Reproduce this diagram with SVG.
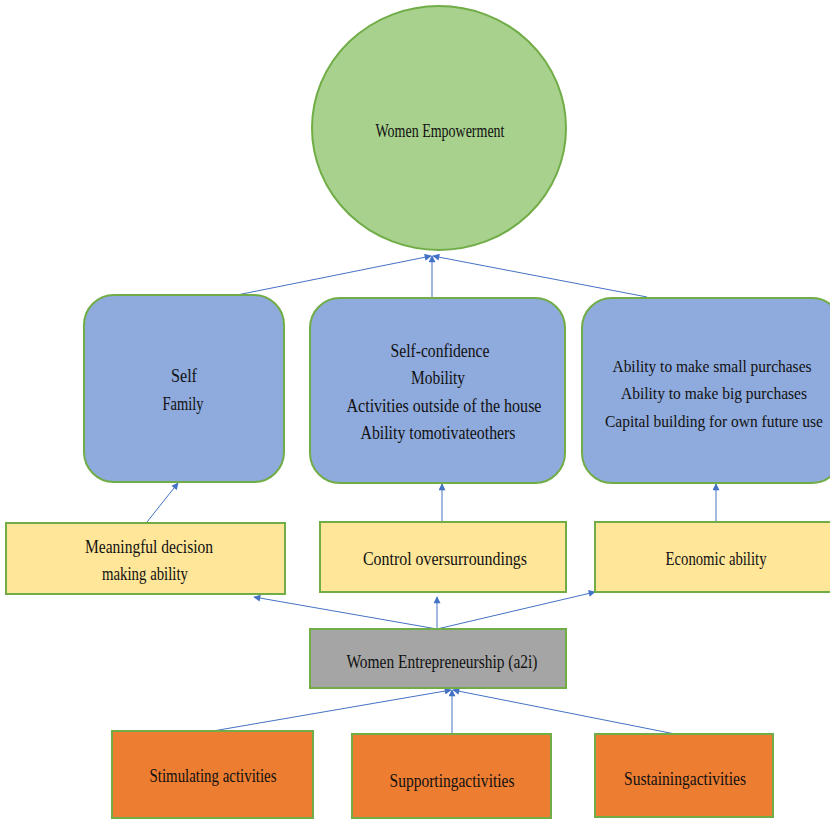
<svg xmlns="http://www.w3.org/2000/svg" width="830" height="820" viewBox="0 0 830 820">
<defs>
<style>
.t{font-family:'Liberation Serif','Times New Roman','DejaVu Serif',serif;font-size:19px;fill:#111;text-anchor:middle}
.s{font-size:16px}
.g{fill:#a9d18e;stroke:#70ad47;stroke-width:2}
.b{fill:#8faadc;stroke:#70ad47;stroke-width:2}
.y{fill:#ffe699;stroke:#70ad47;stroke-width:2}
.gr{fill:#a5a5a5;stroke:#70ad47;stroke-width:2}
.o{fill:#ed7d31;stroke:#70ad47;stroke-width:2}
.c{stroke:#4472c4;stroke-width:1;fill:none;marker-end:url(#ah)}
</style>
<marker id="ah" viewBox="0 0 10 10" refX="9" refY="5" markerWidth="8" markerHeight="7" markerUnits="userSpaceOnUse" orient="auto">
<path d="M0,0 L10,5 L0,10 z" fill="#4472c4"/>
</marker>
</defs>
<rect width="830" height="820" fill="#fff"/>
<g id="connectors">
<line class="c" x1="237" y1="295" x2="431" y2="256"/>
<line class="c" x1="432" y1="298" x2="432" y2="256"/>
<line class="c" x1="647" y1="297" x2="433" y2="256"/>
<line class="c" x1="147" y1="522" x2="178" y2="483"/>
<line class="c" x1="442" y1="522" x2="442" y2="484"/>
<line class="c" x1="716" y1="522" x2="716" y2="484"/>
<line class="c" x1="437" y1="629" x2="254" y2="597"/>
<line class="c" x1="437" y1="629" x2="437" y2="597"/>
<line class="c" x1="437" y1="629" x2="595" y2="592"/>
<line class="c" x1="213" y1="731" x2="451" y2="690"/>
<line class="c" x1="452" y1="734" x2="452" y2="690"/>
<line class="c" x1="675" y1="734" x2="453" y2="690"/>
</g>
<g id="women-empowerment">
<ellipse class="g" cx="439" cy="128" rx="127" ry="122"/>
<text class="t" x="440" y="137" textLength="129" lengthAdjust="spacingAndGlyphs">Women Empowerment</text>
</g>
<g id="self-family">
<rect class="b" x="84" y="295" width="200" height="187" rx="30"/>
<text class="t" x="184" y="382" textLength="26" lengthAdjust="spacingAndGlyphs">Self</text>
<text class="t" x="183" y="410" textLength="41" lengthAdjust="spacingAndGlyphs">Family</text>
</g>
<g id="self-confidence">
<rect class="b" x="310" y="298" width="255" height="185" rx="30"/>
<text class="t" x="440" y="357" textLength="99" lengthAdjust="spacingAndGlyphs">Self-confidence</text>
<text class="t" x="438" y="384" textLength="54" lengthAdjust="spacingAndGlyphs">Mobility</text>
<text class="t" x="444" y="412" textLength="195" lengthAdjust="spacingAndGlyphs">Activities outside of the house</text>
<text class="t" x="438" y="439" textLength="155" lengthAdjust="spacingAndGlyphs">Ability tomotivateothers</text>
</g>
<g id="purchases">
<rect class="b" x="582" y="298" width="260" height="185" rx="30"/>
<text class="t s" x="712" y="372" textLength="199" lengthAdjust="spacingAndGlyphs">Ability to make small purchases</text>
<text class="t s" x="714" y="399" textLength="186" lengthAdjust="spacingAndGlyphs">Ability to make big purchases</text>
<text class="t s" x="714" y="427" textLength="218" lengthAdjust="spacingAndGlyphs">Capital building for own future use</text>
</g>
<g id="meaningful-decision">
<rect class="y" x="6" y="523" width="279" height="71"/>
<text class="t" x="149" y="553" textLength="128" lengthAdjust="spacingAndGlyphs">Meaningful decision</text>
<text class="t" x="145" y="580" textLength="86" lengthAdjust="spacingAndGlyphs">making ability</text>
</g>
<g id="control-surroundings">
<rect class="y" x="320" y="522" width="246" height="70"/>
<text class="t" x="445" y="565" textLength="164" lengthAdjust="spacingAndGlyphs">Control oversurroundings</text>
</g>
<g id="economic-ability">
<rect class="y" x="595" y="522" width="245" height="70"/>
<text class="t" x="716" y="565" textLength="101" lengthAdjust="spacingAndGlyphs">Economic ability</text>
</g>
<g id="women-entrepreneurship">
<rect class="gr" x="310" y="629" width="256" height="59"/>
<text class="t" x="442" y="668" textLength="191" lengthAdjust="spacingAndGlyphs">Women Entrepreneurship (a2i)</text>
</g>
<g id="stimulating">
<rect class="o" x="112" y="731" width="201" height="87"/>
<text class="t" x="213" y="782" textLength="127" lengthAdjust="spacingAndGlyphs">Stimulating activities</text>
</g>
<g id="supporting">
<rect class="o" x="352" y="734" width="199" height="84"/>
<text class="t" x="452" y="787" textLength="125" lengthAdjust="spacingAndGlyphs">Supportingactivities</text>
</g>
<g id="sustaining">
<rect class="o" x="595" y="734" width="178" height="83"/>
<text class="t" x="685" y="785" textLength="122" lengthAdjust="spacingAndGlyphs">Sustainingactivities</text>
</g>
</svg>
